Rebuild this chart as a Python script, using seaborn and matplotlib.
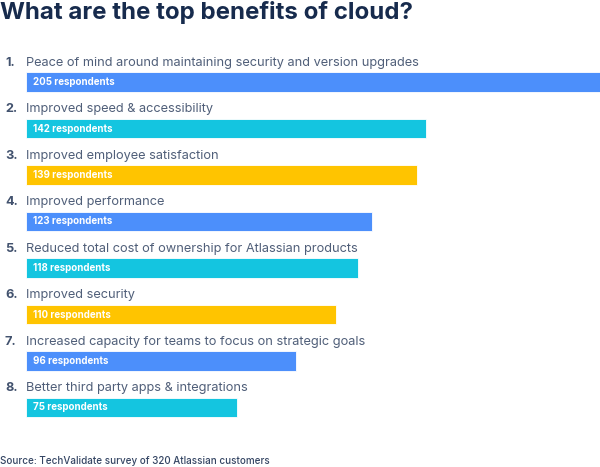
import matplotlib
matplotlib.use("Agg")
import matplotlib.pyplot as plt
import seaborn as sns

# data
benefits = [
    "Peace of mind around maintaining security and version upgrades",
    "Improved speed & accessibility",
    "Improved employee satisfaction",
    "Improved performance",
    "Reduced total cost of ownership for Atlassian products",
    "Improved security",
    "Increased capacity for teams to focus on strategic goals",
    "Better third party apps & integrations",
]
respondents = [205, 142, 139, 123, 118, 110, 96, 75]
bar_colors = ["#4C8FFB", "#14C5E0", "#FFC400", "#4C8FFB",
              "#14C5E0", "#FFC400", "#4C8FFB", "#14C5E0"]

sns.set_style("white")
plt.rcParams["font.family"] = ["Inter", "DejaVu Sans"]

fig = plt.figure(figsize=(6, 4.67), dpi=100)
ax = fig.add_axes([26 / 600, 1 - 454 / 467, 574 / 600, (454 - 35.5) / 467])

sns.barplot(x=respondents, y=benefits, hue=benefits, palette=bar_colors,
            legend=False, orient="h", width=0.42, ax=ax,
            edgecolor="#FFFFFF", linewidth=0.6, saturation=1)

ax.set_xlim(0, 204)
ax.set_ylim(8, -1)
ax.axis("off")

for i, (lab, val) in enumerate(zip(benefits, respondents)):
    ax.text(0, i - 0.41, lab, ha="left", va="center", fontsize=9.2,
            color="#505F79", clip_on=False)
    ax.text(-7.5, i - 0.41, f"{i + 1}.", ha="left", va="center",
            fontsize=9.2, color="#42526E", fontweight="bold", clip_on=False)
    ax.text(2.6, i, f"{val} respondents", ha="left", va="center",
            fontsize=7.0, color="white", fontweight="bold", clip_on=False)

fig.text(0.0, 1 - 13 / 467, "What are the top benefits of cloud?",
         ha="left", va="center", fontsize=17.3, fontweight="bold",
         color="#172B4D")
fig.text(0.0, 1 - 461 / 467, "Source: TechValidate survey of 320 Atlassian customers",
         ha="left", va="center", fontsize=7.1, color="#344563",
         fontweight="medium")

fig.savefig("out.png", dpi=100)
